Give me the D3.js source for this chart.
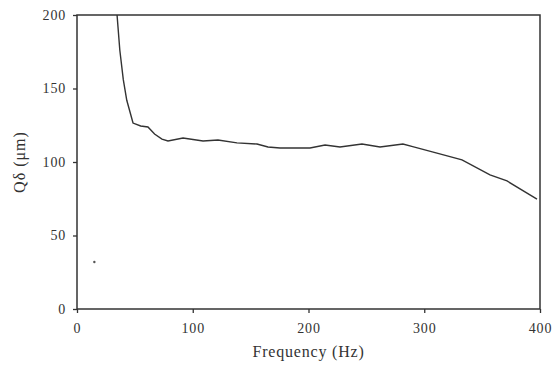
<!DOCTYPE html>
<html>
<head>
<meta charset="utf-8">
<script src="https://cdn.jsdelivr.net/npm/d3@7"></script>
<style>
  body { margin: 0; background: #fff; }
  text { font-family: "Liberation Serif", "DejaVu Serif", serif; fill: #333; }
</style>
</head>
<body>
<script>
// values
var freq  = [34.6, 37, 40, 43, 48.4, 55, 61.3, 67, 73.4, 78.6, 91.6, 108.9, 121.8, 138.2, 155.5, 165, 175.4, 201.3, 214.3, 227.2, 246.2, 261.8, 281.6, 290, 311, 332.6, 356.8, 371.5, 397.4]
var qd    = [200, 176, 156, 142, 126.5, 124.5, 123.8, 119, 115.6, 114.3, 116.3, 114.3, 115, 113, 112.2, 110.2, 109.5, 109.5, 111.6, 110.2, 112.2, 110.2, 112.2, 110.5, 106, 101.4, 91.2, 87.1, 74.8]
var loneFreq = [15]
var loneQd   = [32]
var xTicks = [0, 100, 200, 300, 400]
var yTicks = [0, 50, 100, 150, 200]

var margin = {left: 77, right: 14, top: 15, bottom: 60}
var W = 554, H = 369

var svg = d3.select("body").append("svg")
  .attr('width', W)
  .attr('height', H)

var x = d3.scaleLinear().domain([0, 400]).range([margin.left, W - margin.right])
var y = d3.scaleLinear().domain([0, 200]).range([H - margin.bottom, margin.top])

svg.append("defs").append("clipPath").attr("id", "clip")
  .append("rect")
  .attr('x', x(0)).attr('y', y(200))
  .attr('width', x(400) - x(0)).attr('height', y(0) - y(200))

// frame
svg.append("rect")
  .attr('x', x(0)).attr('y', y(200))
  .attr('width', x(400) - x(0)).attr('height', y(0) - y(200))
  .attr('fill', 'none')
  .attr('stroke', '#333')
  .attr('stroke-width', 1.5)

var xAxis = svg.append("g")
  .attr('transform', 'translate(0,' + y(0) + ')')
  .call(d3.axisBottom(x).tickValues(xTicks).tickSize(4).tickSizeOuter(0).tickPadding(10))
var yAxis = svg.append("g")
  .attr('transform', 'translate(' + x(0) + ',0)')
  .call(d3.axisLeft(y).tickValues(yTicks).tickSize(4).tickSizeOuter(0).tickPadding(7))

svg.selectAll(".domain").remove()
svg.selectAll(".tick line").attr('stroke', '#333').attr('stroke-width', 1.3)
svg.selectAll(".tick text")
  .style('font-family', '"Liberation Serif", serif')
  .style('font-size', '14px')
  .style('letter-spacing', '0.8px')
  .attr('fill', '#333')

var line = d3.line()
  .x(function(d, i) { return x(freq[i]) })
  .y(function(d) { return y(d) })

svg.append("path")
  .datum(qd)
  .attr('clip-path', 'url(#clip)')
  .attr('d', line)
  .attr('fill', 'none')
  .attr('stroke', '#333')
  .attr('stroke-width', 1.4)

svg.selectAll("circle")
  .data(loneQd)
  .enter().append("circle")
  .attr('cx', function(d, i) { return x(loneFreq[i]) })
  .attr('cy', function(d) { return y(d) })
  .attr('r', 1.2)
  .attr('fill', '#555')

svg.append("text")
  .attr('x', (x(0) + x(400)) / 2)
  .attr('y', 357)
  .attr('text-anchor', 'middle')
  .style('font-size', '16px')
  .style('letter-spacing', '0.8px')
  .text("Frequency (Hz)")

svg.append("text")
  .attr('transform', 'translate(25,' + (y(100)) + ') rotate(-90)')
  .attr('text-anchor', 'middle')
  .style('font-size', '16px')
  .style('letter-spacing', '1px')
  .text("Qδ (μm)")
</script>
</body>
</html>
